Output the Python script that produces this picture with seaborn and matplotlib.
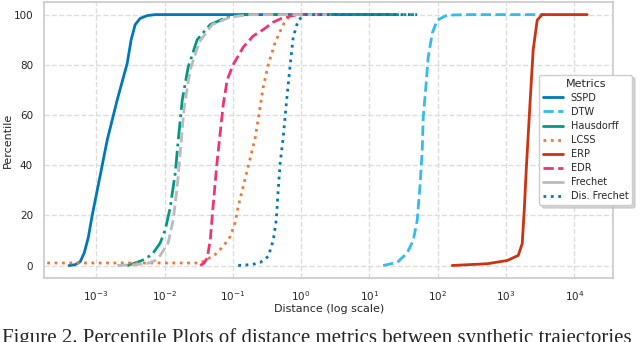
import numpy as np
import pandas as pd
import seaborn as sns
import matplotlib.pyplot as plt
from matplotlib.lines import Line2D

# --- percentile curves (distance, percentile)
sspd_dist = [4.0e-4, 4.9e-4, 5.83e-4, 6.67e-4, 7.64e-4, 8.74e-4, 1.146e-3, 1.45e-3, 2.03e-3, 2.84e-3,
             3.25e-3, 3.72e-3, 4.41e-3, 5.58e-3, 7.31e-3, 0.1, 1.0, 20.0]
sspd_pct = [0, 0.3, 1.5, 5, 11, 20, 36, 50, 66, 80.5, 90, 96, 98.5, 99.6, 100, 100, 100, 100]

dtw_dist = [15.9, 25.5, 35.7, 43.8, 50.1, 55.5, 59.3, 61.4, 67.9, 72.6, 83.2, 98.4, 138, 299, 3750]
dtw_pct = [0, 1.2, 5, 10, 18, 33, 46, 59, 73, 83, 92.6, 97.8, 99.8, 100, 100]

hausdorff_dist = [2.84e-3, 3.72e-3, 5.21e-3, 6.84e-3, 8.65e-3, 1.02e-2, 1.21e-2, 1.44e-2, 1.59e-2,
                  1.82e-2, 2.22e-2, 3.01e-2, 4.67e-2, 8.28e-2, 0.142, 1.0, 45.0]
hausdorff_pct = [0, 1, 2.5, 5, 9, 14, 23, 37, 50, 66, 79, 90, 96, 99, 100, 100, 100]

lcss_dist = [1.92e-4, 1.15e-3, 6.18e-3, 0.0333, 0.0395, 0.0552, 0.0723, 0.0916, 0.108, 0.120,
             0.142, 0.168, 0.213, 0.244, 0.279, 0.330, 0.418, 0.547, 0.692, 1.2]
lcss_pct = [1, 1, 1, 1, 2, 4.4, 7.6, 11.5, 17, 23.5, 31.5, 39.4, 51, 61, 71, 80, 89, 96, 99.8, 100]

erp_dist = [163, 531, 1042, 1510, 1726, 1849, 1977, 2261, 2500, 2864, 3388, 15450]
erp_pct = [0, 0.7, 2, 4, 8.7, 22, 38, 66, 86, 97.8, 100, 100]

edr_dist = [0.0333, 0.0381, 0.0422, 0.0467, 0.0516, 0.0592, 0.0655, 0.0723, 0.0828, 0.101,
            0.142, 0.199, 0.279, 0.391, 0.547, 0.877, 2.5]
edr_pct = [0, 1, 3, 10, 24, 42, 53, 64, 74, 80, 87, 91.5, 94, 97, 98.8, 100, 100]

frechet_dist = [2.03e-3, 3.72e-3, 5.58e-3, 7.31e-3, 8.65e-3, 1.13e-2, 1.34e-2, 1.53e-2, 1.70e-2,
                1.94e-2, 2.38e-2, 3.22e-2, 4.99e-2, 9.16e-2, 0.18, 2.7]
frechet_pct = [0, 0.3, 0.8, 2, 4, 9, 18, 31, 45, 63, 78, 89, 96, 99, 100, 100]

disfrechet_dist = [0.120, 0.192, 0.252, 0.330, 0.391, 0.432, 0.462, 0.494, 0.547, 0.605,
                   0.692, 0.766, 0.908, 1.15, 50.0]
disfrechet_pct = [0, 0.4, 1.2, 3.6, 10, 18, 30, 41, 51, 64, 80, 91, 97.8, 100, 100]

metrics = ['SSPD', 'DTW', 'Hausdorff', 'LCSS', 'ERP', 'EDR', 'Frechet', 'Dis. Frechet']
curves = {
    'SSPD': (sspd_dist, sspd_pct),
    'DTW': (dtw_dist, dtw_pct),
    'Hausdorff': (hausdorff_dist, hausdorff_pct),
    'LCSS': (lcss_dist, lcss_pct),
    'ERP': (erp_dist, erp_pct),
    'EDR': (edr_dist, edr_pct),
    'Frechet': (frechet_dist, frechet_pct),
    'Dis. Frechet': (disfrechet_dist, disfrechet_pct),
}

# paul tol "vibrant" colours
colors = {'SSPD': '#0077BB', 'DTW': '#33BBEE', 'Hausdorff': '#009988', 'LCSS': '#EE7733',
          'ERP': '#CC3311', 'EDR': '#EE3377', 'Frechet': '#BBBBBB', 'Dis. Frechet': '#0077BB'}
styles = {'SSPD': '-', 'DTW': '--', 'Hausdorff': '-.', 'LCSS': ':',
          'ERP': '-', 'EDR': '--', 'Frechet': '--', 'Dis. Frechet': ':'}
# legend handles are short, dash-dot / long dashes show up as solid there
legend_styles = {'SSPD': '-', 'DTW': '--', 'Hausdorff': '-', 'LCSS': ':',
                 'ERP': '-', 'EDR': '--', 'Frechet': '-', 'Dis. Frechet': ':'}

sns.set_theme(style='whitegrid', rc={'grid.linestyle': '--', 'grid.color': '#dddddd',
                                     'axes.edgecolor': '#cccccc'})

fig = plt.figure(figsize=(6.4, 3.42), dpi=100)
ax = fig.add_axes([0.069, 0.187, 0.889, 0.807])

for m in metrics:
    d, p = curves[m]
    df = pd.DataFrame({'dist': d, 'pct': p})
    sns.lineplot(data=df, x='dist', y='pct', ax=ax, color=colors[m], linestyle=styles[m],
                 linewidth=2, sort=False, estimator=None)

ax.set_xscale('log')
ax.set_xlim(1.73e-4, 3.7e4)
ax.set_ylim(-5, 105)
ax.set_yticks([0, 20, 40, 60, 80, 100])
ax.tick_params(labelsize=7.5, pad=2)
ax.set_xlabel('Distance (log scale)', fontsize=8, labelpad=1)
ax.set_ylabel('Percentile', fontsize=8, labelpad=0.5)

handles = [Line2D([], [], color=colors[m], linestyle=legend_styles[m], linewidth=2) for m in metrics]
ax.legend(handles, metrics, title='Metrics', loc='center left', bbox_to_anchor=(0.862, 0.5),
          fontsize=7.0, title_fontsize=8, frameon=True, edgecolor='#cccccc', labelspacing=0.42,
          shadow={'color': '#bbbbbb', 'alpha': 0.6, 'ox': 2, 'oy': -2}, handlelength=2.0)

# figure caption, cut off by the bottom edge like in the paper
fig.text(0.003, -0.002, 'Figure 2. Percentile Plots of distance metrics between synthetic trajectories',
         family='Liberation Serif', fontsize=15, va='baseline', ha='left')

plt.savefig('out.png', dpi=100)
